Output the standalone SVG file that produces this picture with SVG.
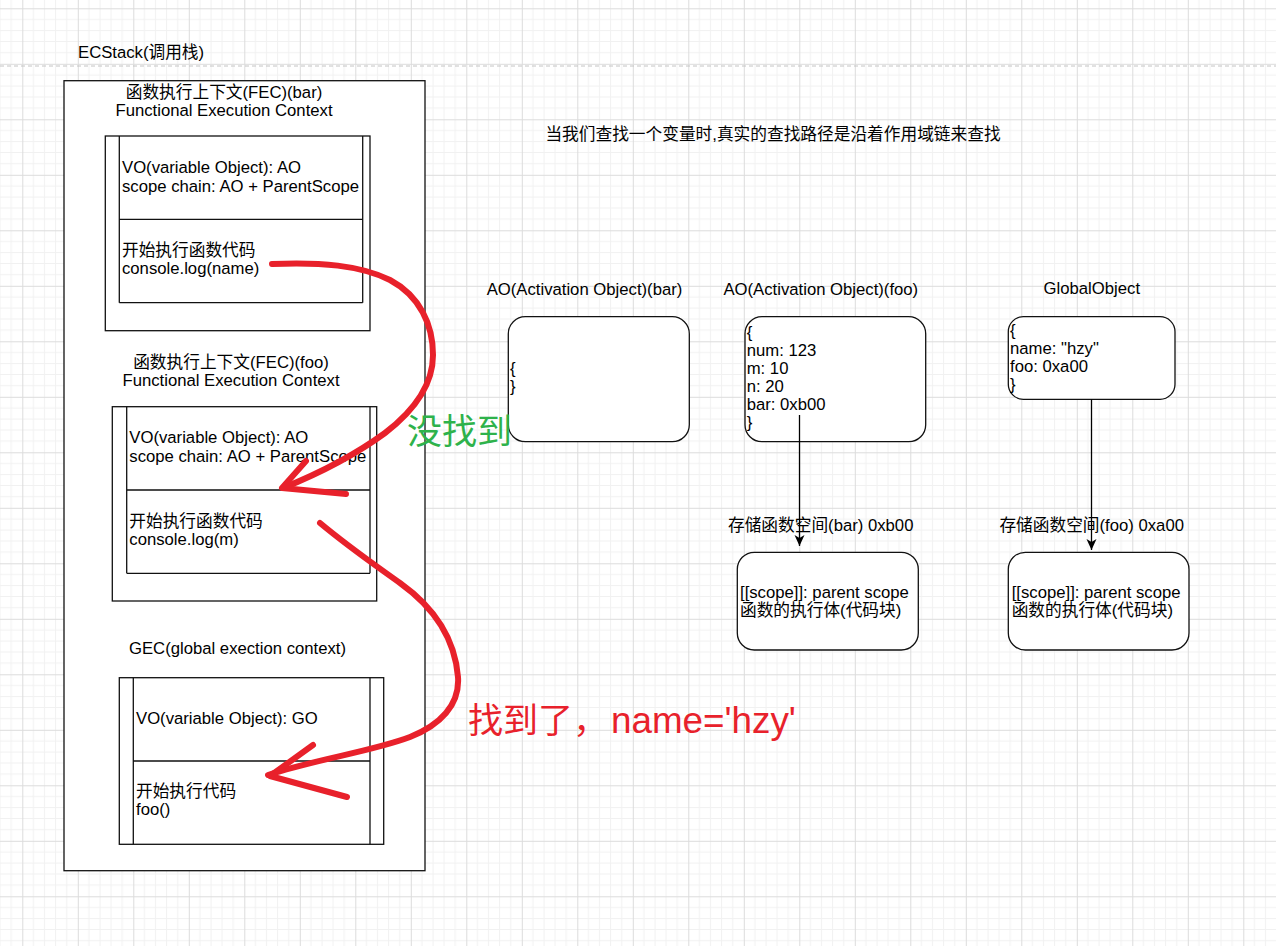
<svg xmlns="http://www.w3.org/2000/svg" width="1276" height="946" viewBox="0 0 1276 946">
<style>
text{font-family:"Liberation Sans","Noto Sans CJK SC",sans-serif;font-size:16.7px;fill:#000}
.c{text-anchor:middle}
.box{fill:#fff;stroke:#111;stroke-width:1.3}
.ln{fill:none;stroke:#111;stroke-width:1.3}
.rb{fill:#fff;stroke:#111;stroke-width:1.3}
.arw{fill:none;stroke:#000;stroke-width:1.3}
.red{fill:none;stroke:#e8212b;stroke-width:6;stroke-linecap:round;stroke-linejoin:round}
.big{font-size:35px}
</style>
<defs>
<pattern id="grid" patternUnits="userSpaceOnUse" x="22.3" y="8.3" width="55.5" height="55.5">
<path d="M11.1,0V55.5M22.2,0V55.5M33.3,0V55.5M44.4,0V55.5M0,11.1H55.5M0,22.2H55.5M0,33.3H55.5M0,44.4H55.5" stroke="#f1f1f1" stroke-width="1" fill="none"/>
<path d="M0.5,0V55.5M0,0.5H55.5" stroke="#dcdcdc" stroke-width="1" fill="none"/>
</pattern>
<marker id="ah" markerUnits="userSpaceOnUse" markerWidth="12" markerHeight="12" viewBox="0 0 12 12" refX="11" refY="6" orient="auto">
<path d="M0,1 L11,6 L0,11 L3,6 z" fill="#000"/>
</marker>
</defs>
<rect width="1276" height="946" fill="#fff"/>
<rect width="1276" height="946" fill="url(#grid)"/>
<line x1="0" y1="66" x2="1276" y2="66" stroke="#c4c4c4" stroke-width="1" stroke-dasharray="4 3"/>

<g id="ecstack">
<text x="78" y="58.3">ECStack(调用栈)</text>
<rect class="box" x="64" y="80.7" width="361" height="790"/>
</g>

<g id="fec-bar">
<text class="c" x="224" y="98">函数执行上下文(FEC)(bar)</text>
<text class="c" x="224" y="116">Functional Execution Context</text>
<rect class="box" x="105.3" y="136" width="264.7" height="194.7"/>
<path class="ln" d="M119.3,136V302.7M362.7,136V302.7M119.3,219.3H362.7M119.3,302.7H362.7"/>
<text x="122" y="173.3">VO(variable Object): AO</text>
<text x="122" y="191.8">scope chain: AO + ParentScope</text>
<text x="122" y="255.5">开始执行函数代码</text>
<text x="122" y="274.3">console.log(name)</text>
</g>

<g id="fec-foo">
<text class="c" x="231" y="368">函数执行上下文(FEC)(foo)</text>
<text class="c" x="231" y="385.7">Functional Execution Context</text>
<rect class="box" x="112.3" y="406.7" width="264.4" height="194.3"/>
<path class="ln" d="M126.7,406.7V573.3M370,406.7V573.3M126.7,490H370M126.7,573.3H370"/>
<text x="129.3" y="443.3">VO(variable Object): AO</text>
<text x="129.3" y="461.7">scope chain: AO + ParentScope</text>
<text x="129.3" y="527">开始执行函数代码</text>
<text x="129.3" y="545">console.log(m)</text>
</g>

<g id="gec">
<text class="c" x="237.5" y="654.3">GEC(global exection context)</text>
<rect class="box" x="119.3" y="677.7" width="264.4" height="166.6"/>
<path class="ln" d="M133.3,677.7V844.3M370,677.7V844.3M133.3,761H370"/>
<text x="136" y="724">VO(variable Object): GO</text>
<text x="136" y="797.3">开始执行代码</text>
<text x="136" y="815">foo()</text>
</g>

<g id="note">
<text class="c" x="773" y="140">当我们查找一个变量时,真实的查找路径是沿着作用域链来查找</text>
</g>

<g id="ao-bar">
<text class="c" x="584.5" y="295">AO(Activation Object)(bar)</text>
<rect class="rb" x="508.3" y="316.7" width="181" height="125" rx="17"/>
<text x="510" y="373.5">{</text>
<text x="510" y="391.5">}</text>
</g>

<g id="ao-foo">
<text class="c" x="820.8" y="295">AO(Activation Object)(foo)</text>
<rect class="rb" x="745" y="316.7" width="180.7" height="125" rx="17"/>
<text x="746.7" y="338">{</text>
<text x="746.7" y="356">num: 123</text>
<text x="746.7" y="373.5">m: 10</text>
<text x="746.7" y="391.5">n: 20</text>
<text x="746.7" y="409.5">bar: 0xb00</text>
<text x="746.7" y="427.5">}</text>
</g>

<g id="global-object">
<text class="c" x="1091.8" y="294">GlobalObject</text>
<rect class="rb" x="1008.3" y="316.7" width="166.7" height="82.6" rx="15"/>
<text x="1010" y="336">{</text>
<text x="1010" y="354">name: "hzy"</text>
<text x="1010" y="371.7">foo: 0xa00</text>
<text x="1010" y="389.5">}</text>
</g>

<g id="func-bar">
<text class="c" x="820.7" y="530.7">存储函数空间(bar) 0xb00</text>
<rect class="rb" x="737.3" y="552.3" width="181" height="97.7" rx="17"/>
<text x="740" y="597.7">[[scope]]: parent scope</text>
<text x="740" y="615.5">函数的执行体(代码块)</text>
</g>

<g id="func-foo">
<text class="c" x="1091.7" y="530.7">存储函数空间(foo) 0xa00</text>
<rect class="rb" x="1008.3" y="552.3" width="180.7" height="97.7" rx="17"/>
<text x="1011.7" y="597.7">[[scope]]: parent scope</text>
<text x="1011.7" y="615.5">函数的执行体(代码块)</text>
</g>

<g id="connectors">
<line class="arw" x1="799.5" y1="415" x2="799.5" y2="546" marker-end="url(#ah)"/>
<line class="arw" x1="1091.5" y1="399.3" x2="1091.5" y2="550" marker-end="url(#ah)"/>
<path class="red" d="M272,264 C320,262 360,265 390,280 C420,296 433,325 433,355 C433,385 415,410 385,433 C355,455 315,475 283,488"/>
<path class="red" d="M306,461 L282,488 L346,494"/>
<path class="red" d="M320,523 C350,548 375,565 400,583 C435,608 455,640 458,677 C460,705 440,725 410,737 C370,752 320,758 268,775"/>
<path class="red" d="M313,745 L270,776 L347,797"/>
</g>

<g id="annotations">
<text class="big" x="407" y="444" style="fill:#2eb24b">没找到</text>
<text class="big" x="468" y="733" style="fill:#e8212b">找到了，<tspan dx="3" style="font-size:36.8px">name='hzy'</tspan></text>
</g>
</svg>
